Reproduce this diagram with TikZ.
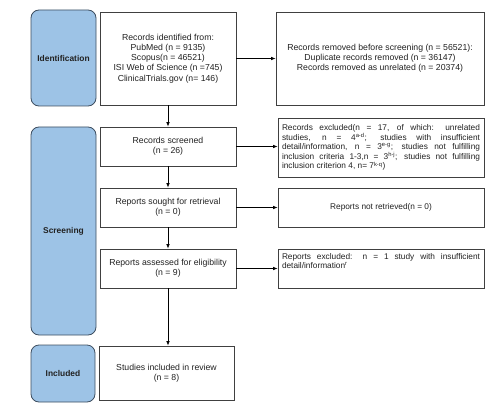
\documentclass[tikz,border=0pt]{standalone}
\usepackage{fontspec}
\setmainfont{Liberation Sans}
\usetikzlibrary{arrows.meta}
\definecolor{phase}{HTML}{9DC3E6}
\definecolor{phaseline}{HTML}{3E4E60}
\definecolor{boxline}{HTML}{404040}
\definecolor{txt}{HTML}{222222}
\newcommand{\smalltxt}{\fontsize{8.3}{9.6}\selectfont}
\begin{document}
\begin{tikzpicture}[x=1pt,y=-1pt,
  phasebox/.style={draw=phaseline,fill=phase,rounded corners=8pt,line width=0.8pt,
    font=\fontsize{8.4}{9}\selectfont\bfseries,text=txt,inner sep=0pt},
  flowbox/.style={draw=boxline,fill=white,line width=0.8pt,align=center,
    font=\fontsize{8.7}{10.2}\selectfont,text=txt,inner sep=0pt},
  sidebox/.style={flowbox,font=\smalltxt},
  arr/.style={-{Latex[length=4.5pt,width=3.6pt]},line width=0.7pt,draw=black}]
\useasboundingbox (0,0) rectangle (500,414);
% phases
\node[phasebox,minimum width=65pt,minimum height=96pt] (ph1) at (63.5,58) {Identification};
\node[phasebox,minimum width=65pt,minimum height=208pt] (ph2) at (63.5,231) {Screening};
\node[phasebox,minimum width=64pt,minimum height=57pt] (ph3) at (63,373.5) {Included};
% left column
\node[flowbox,minimum width=136pt,minimum height=93pt] (ident) at (168,58.5)
  {Records identified from:\\PubMed (n = 9135)\\Scopus(n = 46521)\\ISI Web of Science (n =745)\\ClinicalTrials.gov (n= 146)};
\node[flowbox,minimum width=136pt,minimum height=39pt] (screen) at (168,146.5)
  {Records screened\\(n = 26)};
\node[flowbox,minimum width=136pt,minimum height=39pt] (sought) at (168,207.5)
  {Reports sought for retrieval\\(n = 0)};
\node[flowbox,minimum width=136pt,minimum height=39pt] (assess) at (168,268.5)
  {Reports assessed for eligibility\\(n = 9)};
\node[flowbox,minimum width=135pt,minimum height=54pt] (incl) at (166.5,373)
  {Studies included in review\\(n = 8)};
% right column
\node[flowbox,minimum width=208pt,minimum height=93pt] (removed) at (380,58.5)
  {Records removed before screening (n = 56521):\\Duplicate records removed (n = 36147)\\Records removed as unrelated (n = 20374)};
\node[sidebox,minimum width=206pt,minimum height=59pt] (excl) at (381,147.5)
  {\parbox{198pt}{\smalltxt\hyphenpenalty=10000 Records excluded(n = 17, of which: unrelated\linebreak studies, n = 4\textsuperscript{a-d}; studies with insufficient\linebreak detail/information, n = 3\textsuperscript{e-g}; studies not fulfilling\linebreak inclusion criteria 1-3,n = 3\textsuperscript{h-j}; studies not fulfilling\linebreak inclusion criterion 4, n= 7\textsuperscript{k-q})}};
\node[sidebox,minimum width=206pt,minimum height=39pt] (notret) at (381,207.5)
  {Reports not retrieved(n = 0)};
\node[sidebox,minimum width=206pt,minimum height=39pt] (repexcl) at (381,268.5)
  {\parbox[t][31pt][t]{198pt}{\smalltxt\hyphenpenalty=10000 Reports excluded: n = 1 study with insufficient\linebreak detail/information\textsuperscript{r}}};
% arrows
\draw[arr] (ident) -- (screen);
\draw[arr] (screen) -- (sought);
\draw[arr] (sought) -- (assess);
\draw[arr] (assess.south) -- (assess.south |- incl.north);
\draw[arr] (ident) -- (removed);
\draw[arr] (screen.east) -- (screen.east -| excl.west);
\draw[arr] (sought) -- (notret);
\draw[arr] (assess.east) -- (assess.east -| repexcl.west);
\end{tikzpicture}
\end{document}
